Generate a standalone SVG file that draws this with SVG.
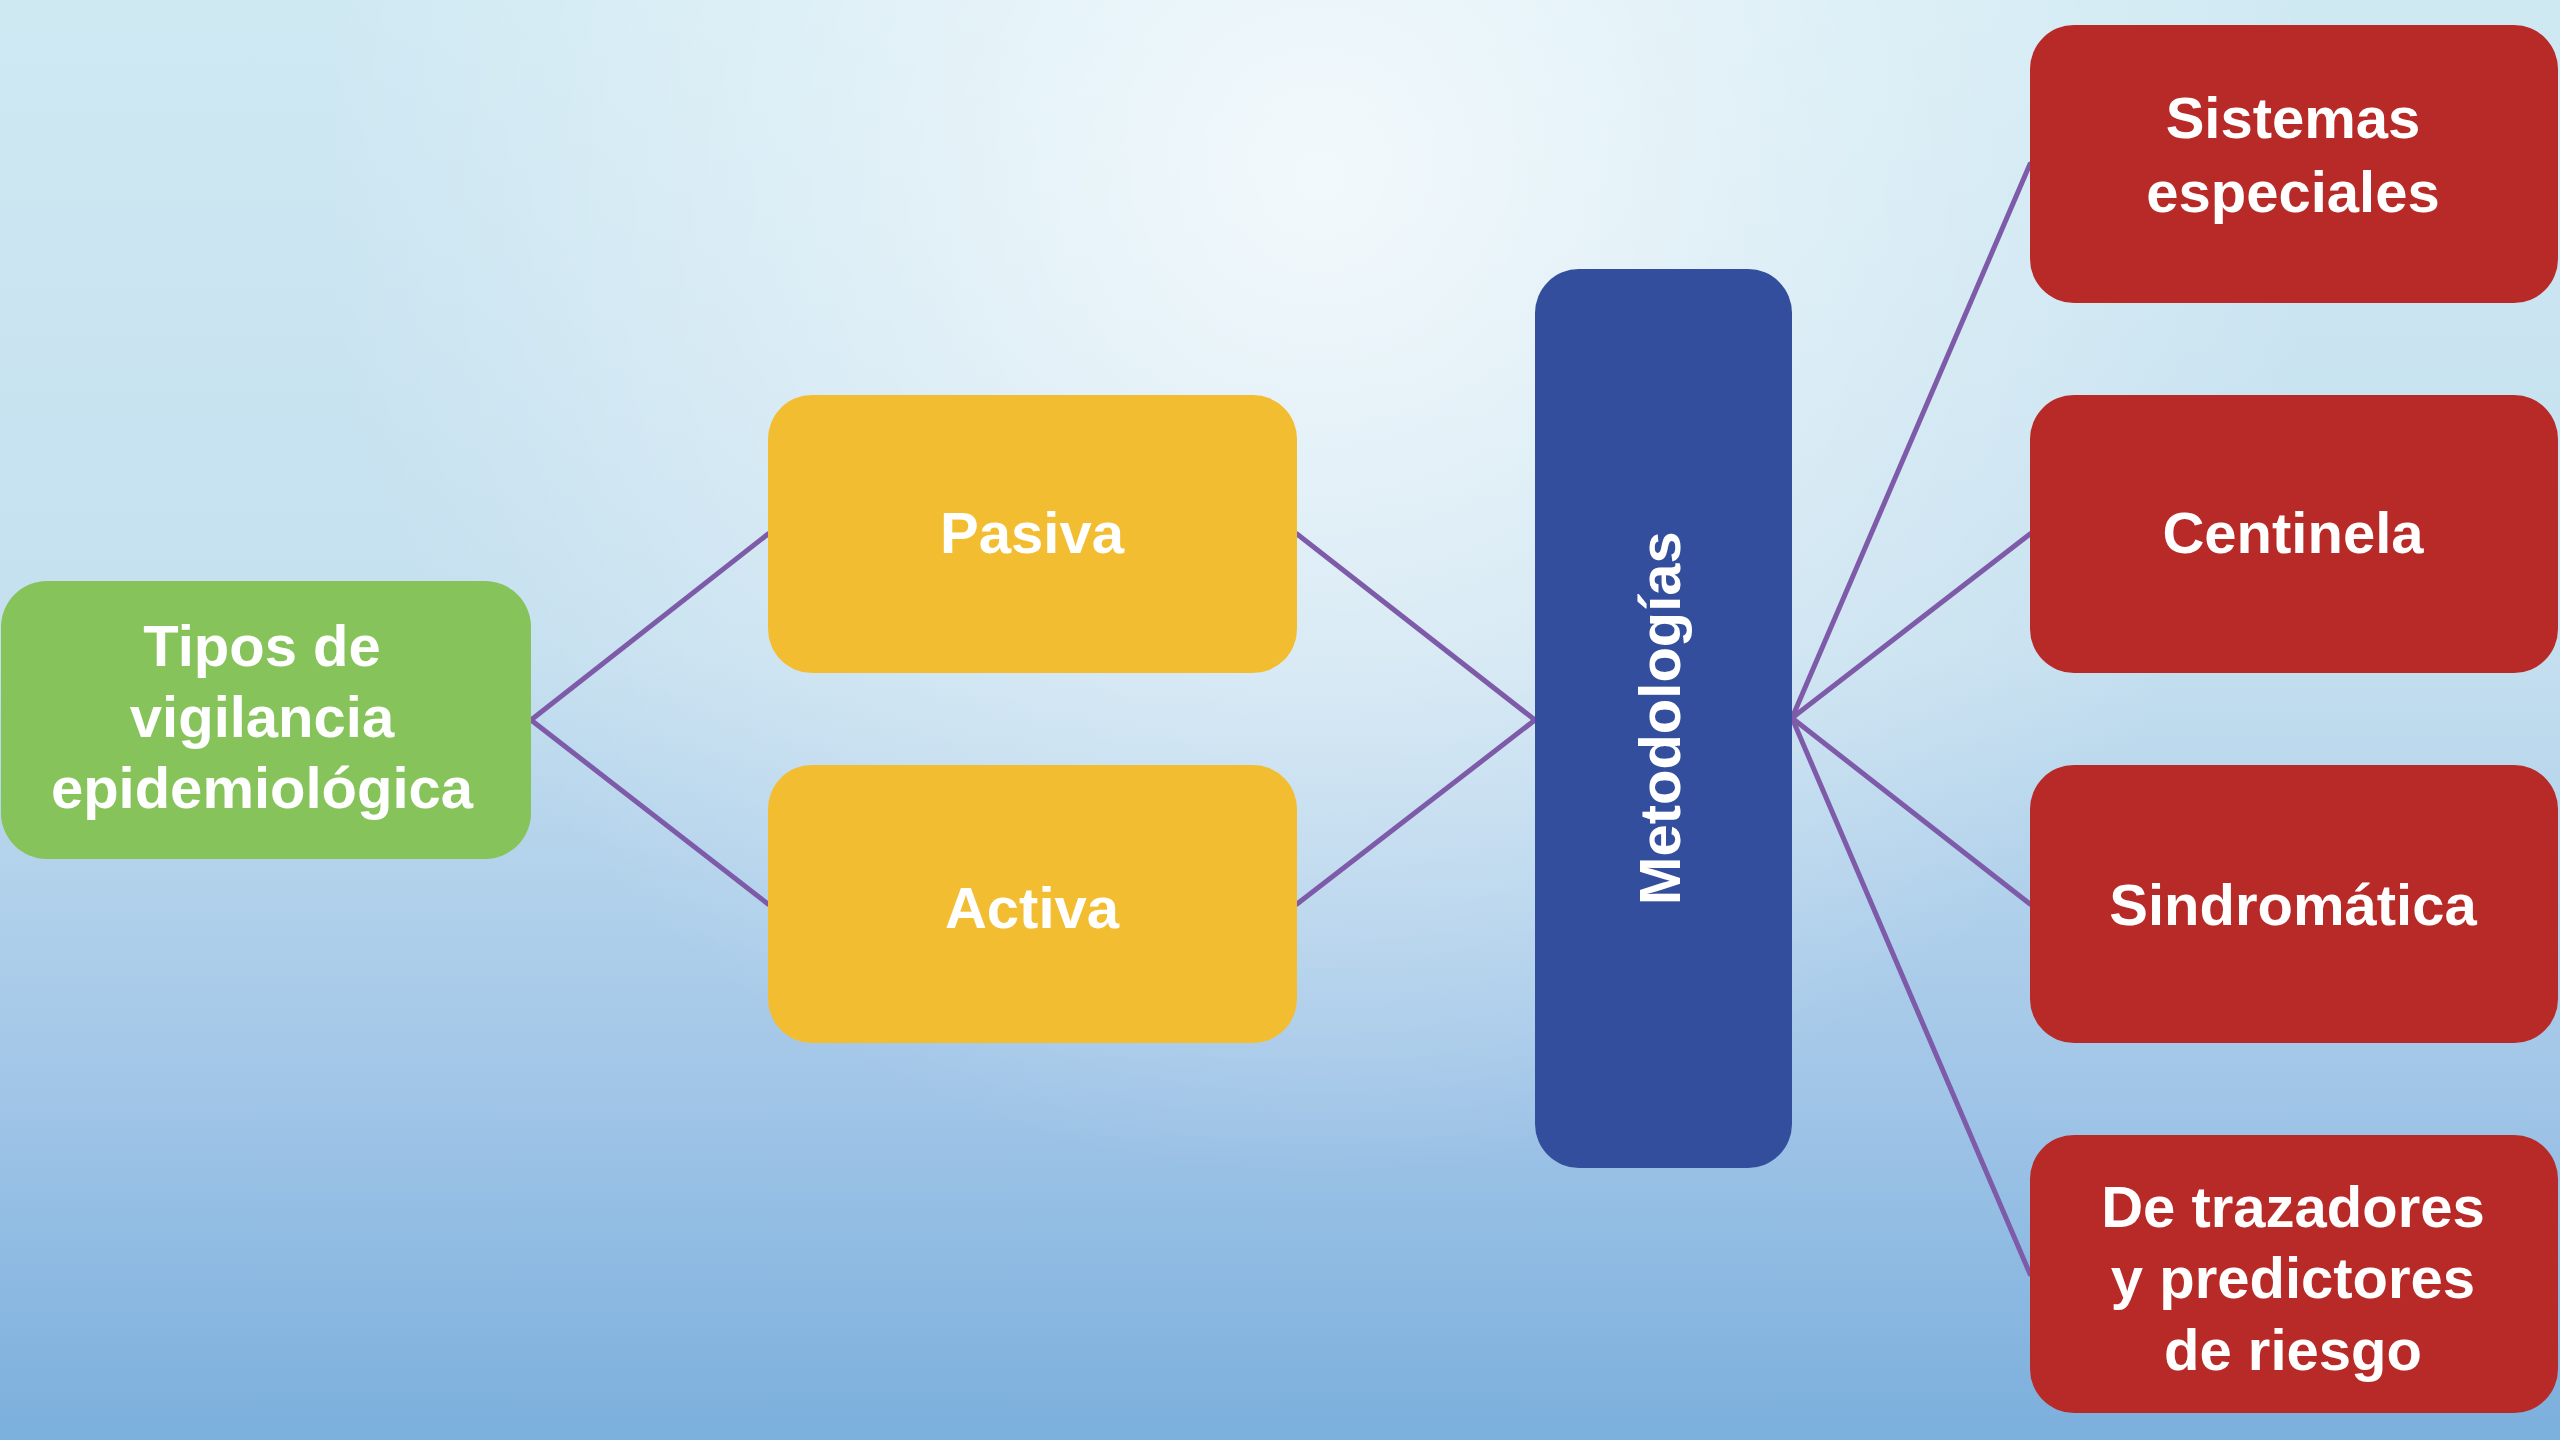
<svg xmlns="http://www.w3.org/2000/svg" width="2560" height="1440" viewBox="0 0 2560 1440">
  <defs>
    <linearGradient id="bgLin" x1="0" y1="0" x2="0" y2="1">
      <stop offset="0" stop-color="#CFE9F3"/>
      <stop offset="0.45" stop-color="#C4DFEF"/>
      <stop offset="0.75" stop-color="#A2C6E8"/>
      <stop offset="1" stop-color="#7BAFDC"/>
    </linearGradient>
    <radialGradient id="bgRad" gradientUnits="userSpaceOnUse" cx="1320" cy="180" r="1000">
      <stop offset="0" stop-color="#FFFFFF" stop-opacity="0.75"/>
      <stop offset="0.5" stop-color="#FFFFFF" stop-opacity="0.35"/>
      <stop offset="1" stop-color="#FFFFFF" stop-opacity="0"/>
    </radialGradient>
    <style>
      .lbl { font-family: "Liberation Sans", Arial, sans-serif; font-weight: bold; font-size: 58px; fill: #FFFFFF; text-anchor: middle; }
      .green { fill: #86C35A; }
      .yellow { fill: #F2BD31; }
      .blue { fill: #324E9C; }
      .red { fill: #B72A27; }
      .conn { stroke: #7E5BA9; stroke-width: 5; fill: none; stroke-linecap: round; }
    </style>
  </defs>

  <rect x="0" y="0" width="2560" height="1440" fill="url(#bgLin)"/>
  <rect x="0" y="0" width="2560" height="1440" fill="url(#bgRad)"/>

  <g id="connectors">
    <line class="conn" x1="531" y1="720" x2="768" y2="534"/>
    <line class="conn" x1="531" y1="720" x2="768" y2="904"/>
    <line class="conn" x1="1297" y1="534" x2="1535" y2="720"/>
    <line class="conn" x1="1297" y1="904" x2="1535" y2="720"/>
    <line class="conn" x1="1792" y1="718" x2="2030" y2="164"/>
    <line class="conn" x1="1792" y1="718" x2="2030" y2="534"/>
    <line class="conn" x1="1792" y1="718" x2="2030" y2="904"/>
    <line class="conn" x1="1792" y1="718" x2="2030" y2="1274"/>
  </g>

  <g id="node-tipos">
    <rect class="green" x="1" y="581" width="530" height="278" rx="46" ry="46"/>
    <text class="lbl" x="262" y="666">Tipos de</text>
    <text class="lbl" x="262" y="737">vigilancia</text>
    <text class="lbl" x="262" y="808">epidemiológica</text>
  </g>

  <g id="node-pasiva">
    <rect class="yellow" x="768" y="395" width="529" height="278" rx="44" ry="44"/>
    <text class="lbl" x="1032" y="553">Pasiva</text>
  </g>

  <g id="node-activa">
    <rect class="yellow" x="768" y="765" width="529" height="278" rx="44" ry="44"/>
    <text class="lbl" x="1032" y="928">Activa</text>
  </g>

  <g id="node-metodologias">
    <rect class="blue" x="1535" y="269" width="257" height="899" rx="44" ry="44"/>
    <text class="lbl" x="0" y="0" transform="translate(1680 718) rotate(-90)">Metodologías</text>
  </g>

  <g id="node-sistemas">
    <rect class="red" x="2030" y="25" width="528" height="278" rx="44" ry="44"/>
    <text class="lbl" x="2293" y="138">Sistemas</text>
    <text class="lbl" x="2293" y="212">especiales</text>
  </g>

  <g id="node-centinela">
    <rect class="red" x="2030" y="395" width="528" height="278" rx="44" ry="44"/>
    <text class="lbl" x="2293" y="553">Centinela</text>
  </g>

  <g id="node-sindromatica">
    <rect class="red" x="2030" y="765" width="528" height="278" rx="44" ry="44"/>
    <text class="lbl" x="2293" y="925">Sindromática</text>
  </g>

  <g id="node-trazadores">
    <rect class="red" x="2030" y="1135" width="528" height="278" rx="44" ry="44"/>
    <text class="lbl" x="2293" y="1227">De trazadores</text>
    <text class="lbl" x="2293" y="1298">y predictores</text>
    <text class="lbl" x="2293" y="1370">de riesgo</text>
  </g>
</svg>
